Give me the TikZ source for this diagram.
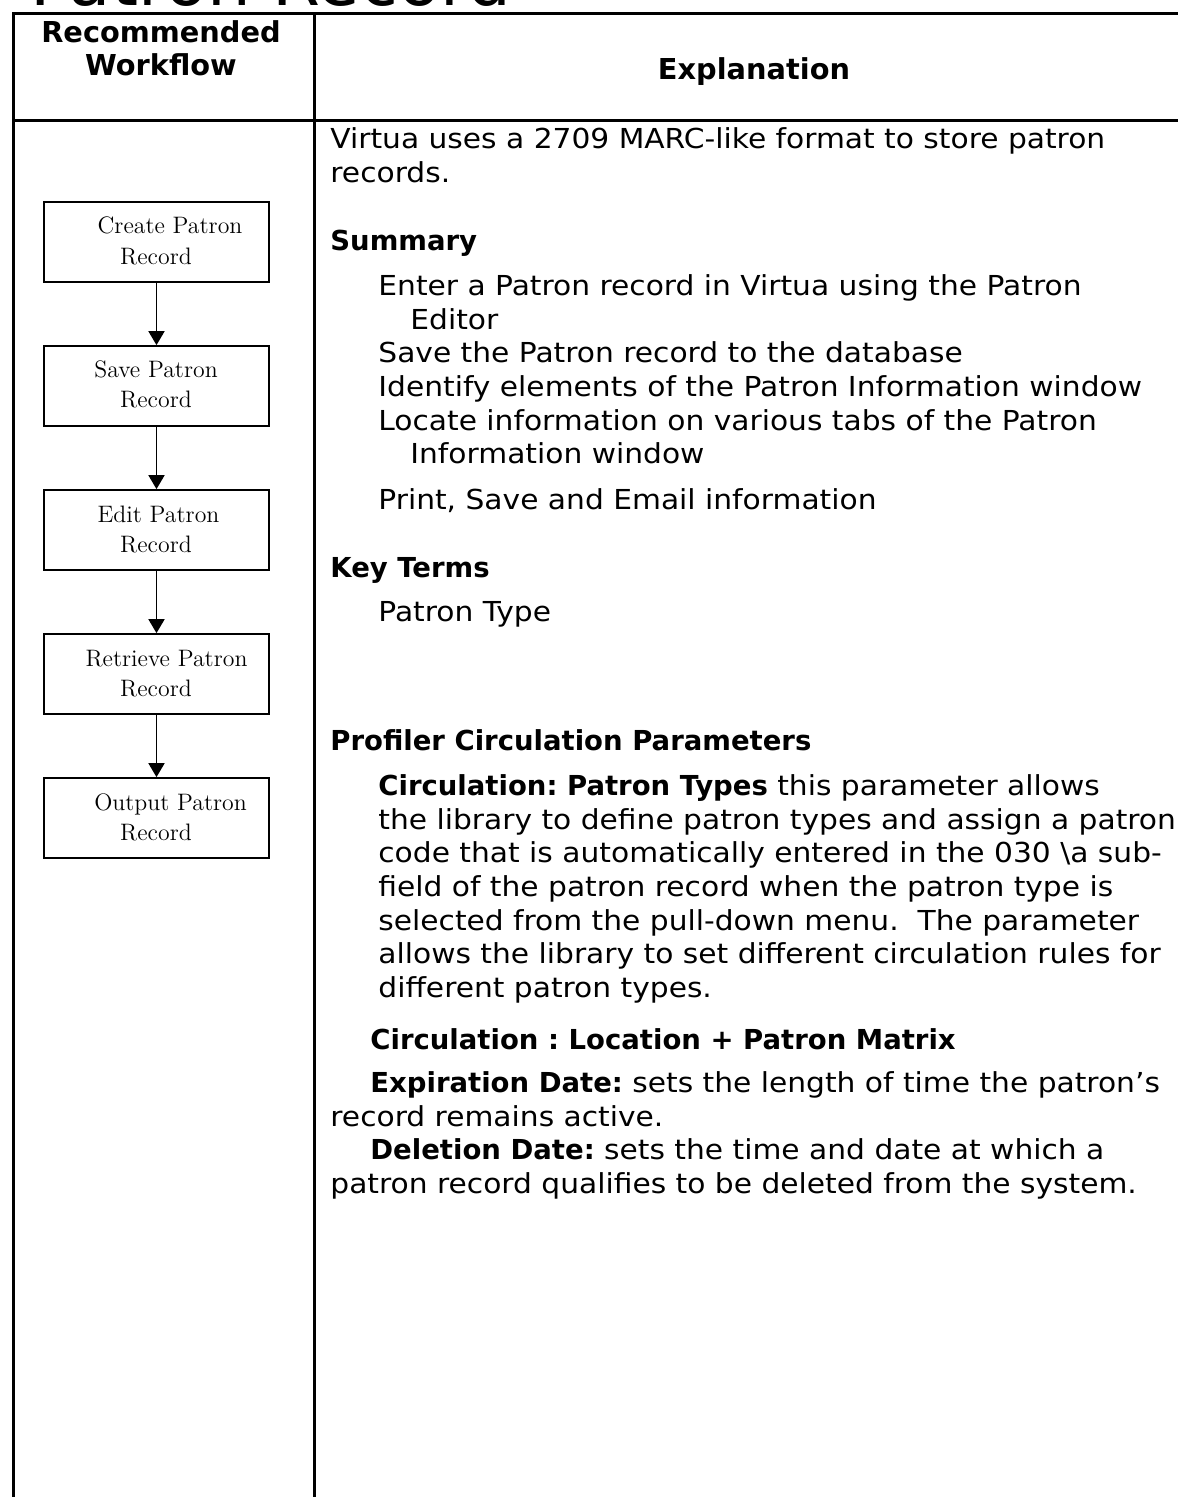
\documentclass[tikz,border=0pt]{standalone}
\usepackage{fontspec}
\newfontfamily\vfont{DejaVu Sans}[FakeStretch=1.08]
\newfontfamily\vbold{DejaVu Sans Bold}
\newfontfamily\vtitle{DejaVu Sans}
\usetikzlibrary{arrows.meta}
\frenchspacing
\begin{document}
\begin{tikzpicture}[x=0.5pt,y=-0.5pt,
  tbl/.style={line width=1.5pt},
  body/.style={anchor=base west, inner sep=0pt, font=\vfont\fontsize{13.75}{16.8}\selectfont},
  head/.style={anchor=base west, inner sep=0pt, font=\vbold\fontsize{13.75}{16.8}\selectfont},
  colhead/.style={anchor=base, inner sep=0pt, font=\vbold\fontsize{14.4}{17}\selectfont},
  wbox/.style={draw, line width=0.85pt, minimum width=112.5pt, minimum height=40pt, inner sep=0pt},
  blabel/.style={anchor=base, inner sep=0pt, font=\fontsize{11.9}{14}\selectfont},
  flow/.style={-{Triangle[length=7pt,width=8pt]}, line width=0.9pt}
]
\useasboundingbox (0,0) rectangle (1178,1497);
\clip (0,0) rectangle (1178,1497);
% title (cut off at the top)
\node[anchor=base west, inner sep=0pt, font=\vtitle\fontsize{34.5}{40}\selectfont] (title) at (30,6) {Patron Record};
% table
\draw[tbl] (13,1497) -- (13,14) -- (1178,14);
\draw[tbl] (13,120.5) -- (1178,120.5);
\draw[tbl] (314.5,14) -- (314.5,1497);
% header
\node[colhead] (h1) at (161,43) {Recommended};
\node[colhead] (h2) at (161,76) {Workflow};
\node[colhead] (h3) at (754,80) {Explanation};
% workflow boxes
\node[wbox] (b1) at (156.5,242) {};
\node[wbox] (b2) at (156.5,386) {};
\node[wbox] (b3) at (156.5,530) {};
\node[wbox] (b4) at (156.5,674) {};
\node[wbox] (b5) at (156.5,818) {};
\node[blabel] (b1a) at (170,234) {Create Patron};
\node[blabel] (b1b) at (156,265) {Record};
\node[blabel] (b2a) at (156,378) {Save Patron};
\node[blabel] (b2b) at (156,408) {Record};
\node[blabel] (b3a) at (158.5,522) {Edit Patron};
\node[blabel] (b3b) at (156,552) {Record};
\node[blabel] (b4a) at (166.5,666) {Retrieve Patron};
\node[blabel] (b4b) at (156,696) {Record};
\node[blabel] (b5a) at (170.5,810) {Output Patron};
\node[blabel] (b5b) at (156,840) {Record};
\draw[flow] (b1) -- (b2);
\draw[flow] (b2) -- (b3);
\draw[flow] (b3) -- (b4);
\draw[flow] (b4) -- (b5);
% explanation
\node[body] (t1) at (330,149) {Virtua uses a 2709 MARC-like format to store patron};
\node[body] (t2) at (330,183) {records.};
\node[head] (t3) at (330,251) {Summary};
\node[body] (t4) at (378,296) {Enter a Patron record in Virtua using the Patron};
\node[body] (t5) at (410,330) {Editor};
\node[body] (t6) at (378,363) {Save the Patron record to the database};
\node[body] (t7) at (378,397) {Identify elements of the Patron Information window};
\node[body] (t8) at (378,430) {Locate information on various tabs of the Patron};
\node[body] (t9) at (410,464) {Information window};
\node[body] (t10) at (378,509) {Print, Save and Email information};
\node[head] (t11) at (330,577) {Key Terms};
\node[body] (t12) at (378,621) {Patron Type};
\node[head] (t13) at (330,750) {Profiler Circulation Parameters};
\node[body] (t14) at (378,795) {{\vbold Circulation: Patron Types} this parameter allows};
\node[body] (t15) at (378,829) {the library to define patron types and assign a patron};
\node[body] (t16) at (378,862) {code that is automatically entered in the 030 \textbackslash a sub-};
\node[body] (t17) at (378,896) {field of the patron record when the patron type is};
\node[body] (t18) at (378,930) {selected from the pull-down menu.\ \ The parameter};
\node[body] (t19) at (378,963) {allows the library to set different circulation rules for};
\node[body] (t20) at (378,997) {different patron types.};
\node[head] (t21) at (370,1049) {Circulation : Location + Patron Matrix};
\node[body] (t22) at (370,1092) {{\vbold Expiration Date:} sets the length of time the patron’s};
\node[body] (t23) at (330,1126) {record remains active.};
\node[body] (t24) at (370,1159) {{\vbold Deletion Date:} sets the time and date at which a};
\node[body] (t25) at (330,1193) {patron record qualifies to be deleted from the system.};
\end{tikzpicture}
\end{document}
